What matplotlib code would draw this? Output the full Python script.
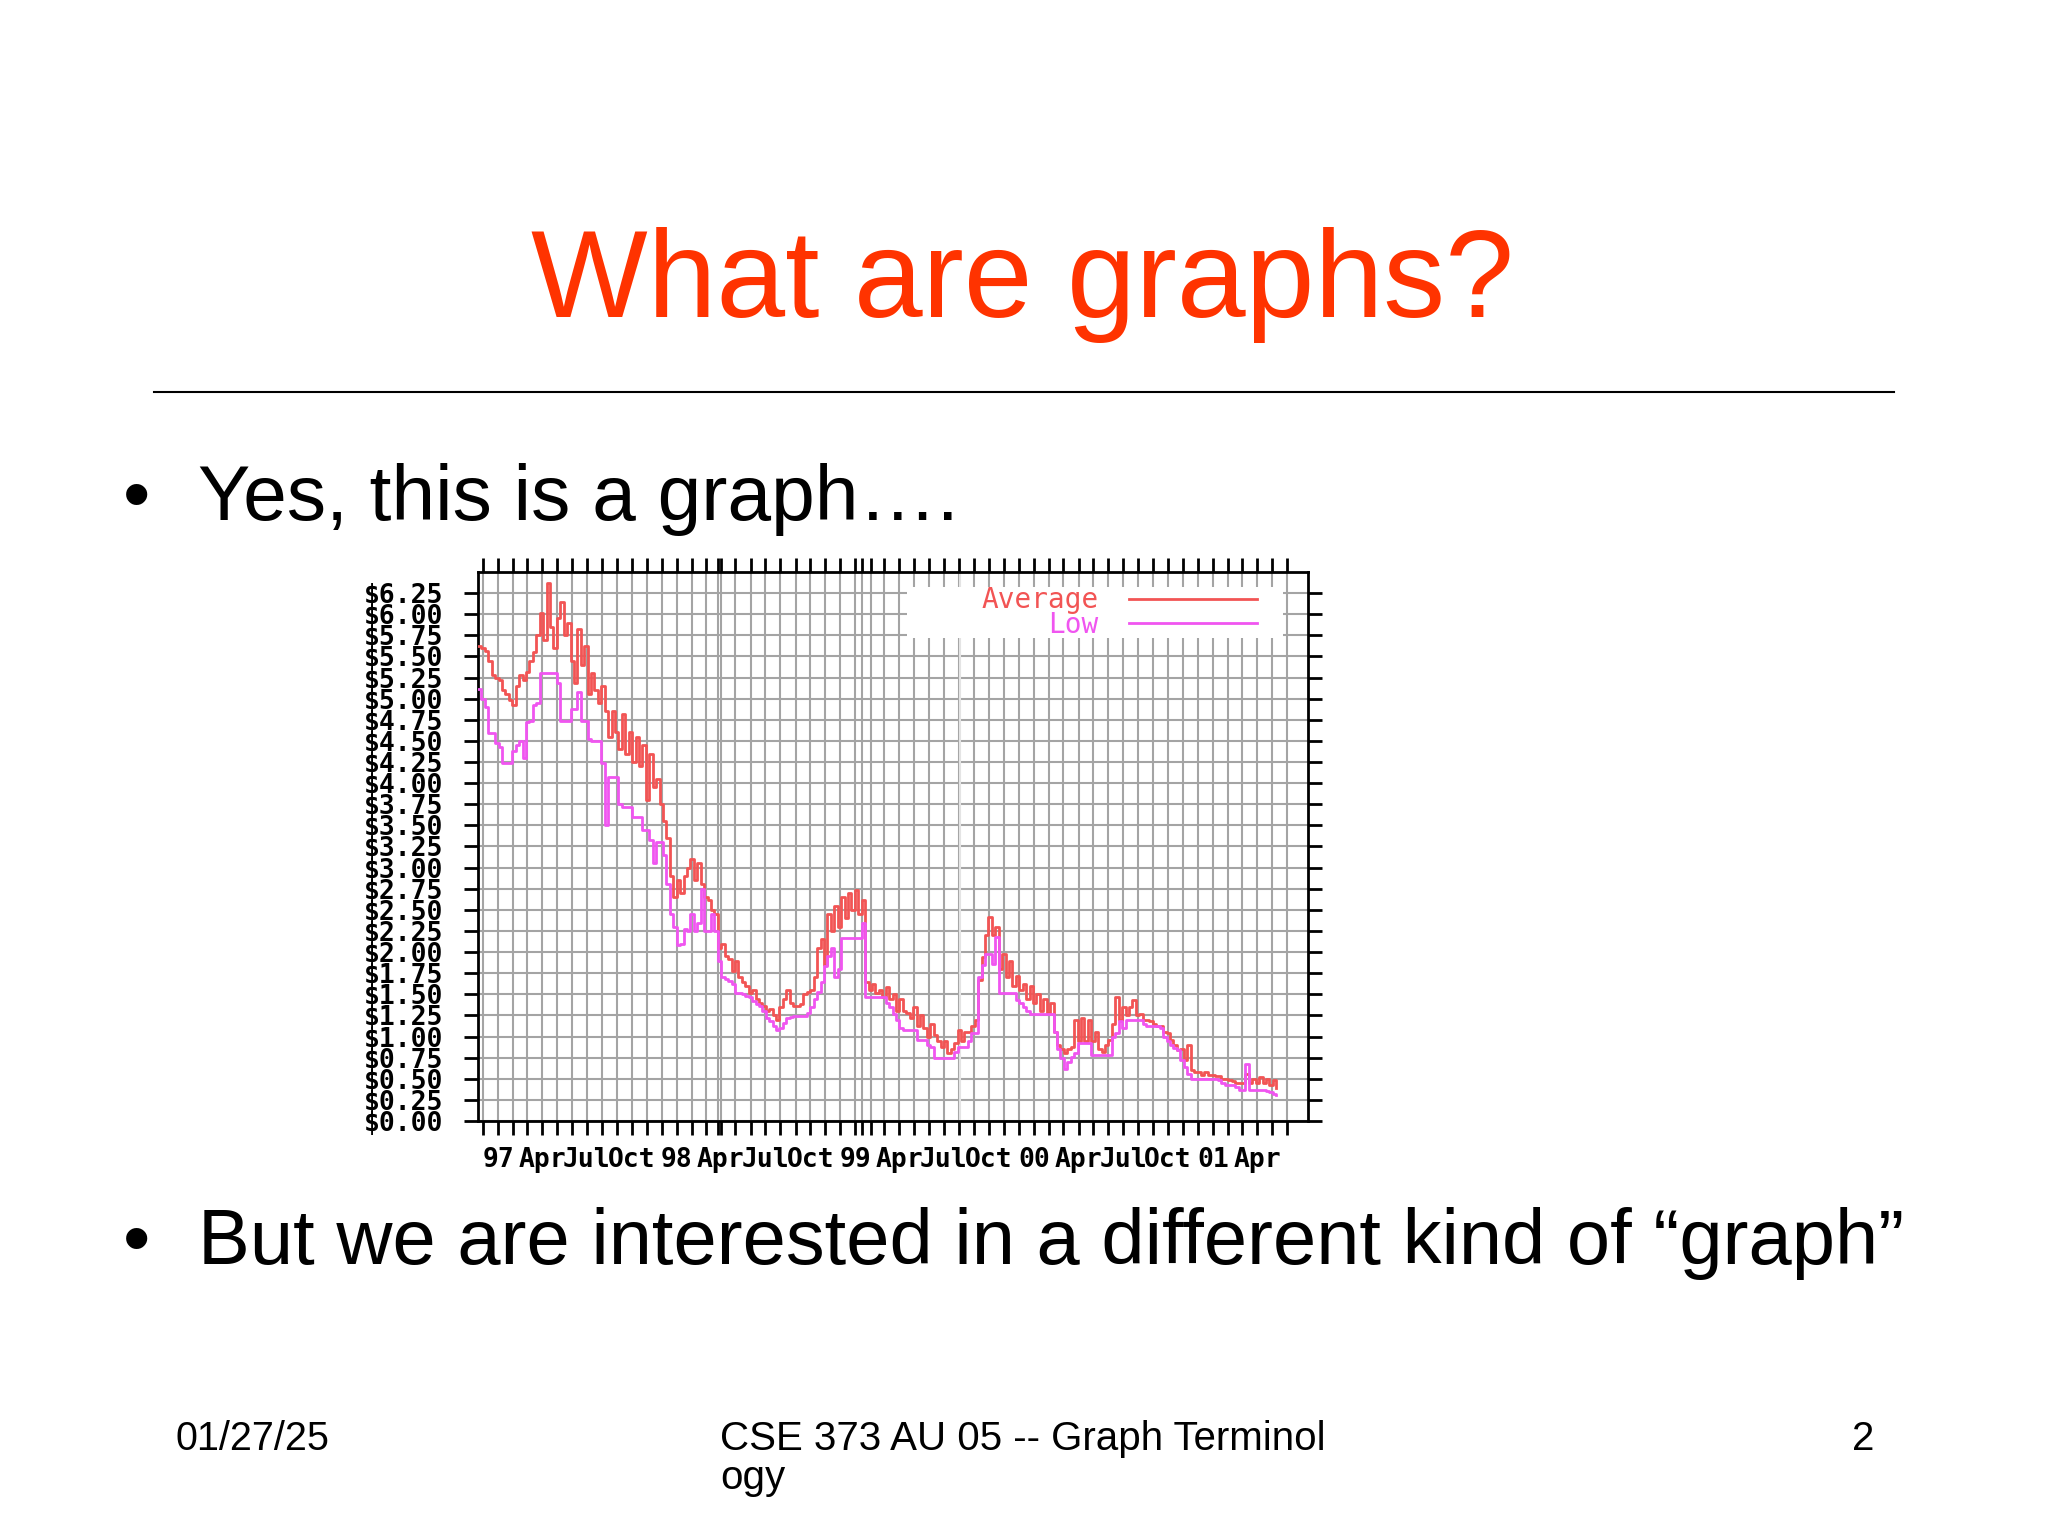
import matplotlib.pyplot as plt
import matplotlib.dates as mdates
from matplotlib.lines import Line2D
from matplotlib.patches import Rectangle
from matplotlib.ticker import FixedLocator
import pandas as pd

# weekly prices, one row per 13 weeks
avg_price = [
    5.62, 5.60, 5.57, 5.45, 5.28, 5.25, 5.22, 5.10, 5.05, 4.98, 4.92, 5.15, 5.28,
    5.22, 5.32, 5.45, 5.55, 5.75, 6.02, 5.70, 6.37, 5.85, 5.60, 5.95, 6.15, 5.75,
    5.90, 5.45, 5.18, 5.83, 5.40, 5.62, 5.06, 5.30, 5.10, 4.95, 5.15, 4.85, 4.55,
    4.85, 4.60, 4.40, 4.82, 4.35, 4.60, 4.25, 4.55, 4.20, 4.45, 3.80, 4.35, 3.95,
    4.05, 3.75, 3.55, 3.35, 2.90, 2.65, 2.85, 2.70, 2.90, 3.00, 3.10, 2.85, 3.05,
    2.80, 2.65, 2.62, 2.50, 2.45, 2.05, 2.10, 1.95, 1.92, 1.78, 1.90, 1.70, 1.65,
    1.60, 1.52, 1.55, 1.45, 1.40, 1.36, 1.30, 1.32, 1.25, 1.20, 1.35, 1.45, 1.55,
    1.40, 1.36, 1.36, 1.38, 1.50, 1.53, 1.55, 1.70, 2.05, 2.15, 1.85, 2.45, 2.25,
    2.55, 2.30, 2.65, 2.40, 2.70, 2.50, 2.73, 2.45, 2.62, 1.65, 1.55, 1.62, 1.52,
    1.55, 1.47, 1.59, 1.45, 1.50, 1.30, 1.45, 1.30, 1.28, 1.22, 1.35, 1.12, 1.25,
    1.10, 1.00, 1.15, 1.02, 0.95, 0.88, 0.95, 0.80, 0.85, 0.92, 1.08, 0.95, 1.05,
    1.05, 1.12, 1.20, 1.67, 1.94, 2.20, 2.42, 2.20, 2.30, 1.80, 1.98, 1.70, 1.90,
    1.60, 1.72, 1.55, 1.62, 1.45, 1.60, 1.40, 1.50, 1.30, 1.45, 1.28, 1.40, 1.05,
    0.90, 0.85, 0.80, 0.85, 0.88, 1.20, 0.95, 1.22, 0.95, 1.20, 0.95, 1.05, 0.85,
    0.82, 0.90, 0.96, 1.15, 1.47, 1.20, 1.35, 1.25, 1.35, 1.43, 1.25, 1.27, 1.20,
    1.20, 1.18, 1.15, 1.12, 1.12, 1.05, 1.04, 0.96, 0.90, 0.84, 0.85, 0.72, 0.90,
    0.60, 0.58, 0.58, 0.55, 0.58, 0.55, 0.55, 0.53, 0.53, 0.50, 0.50, 0.48, 0.47,
    0.45, 0.45, 0.45, 0.56, 0.45, 0.50, 0.45, 0.52, 0.45, 0.50, 0.43, 0.48, 0.39,
]
low_price = [
    5.12, 5.00, 4.90, 4.59, 4.59, 4.48, 4.43, 4.24, 4.24, 4.24, 4.38, 4.45, 4.50,
    4.30, 4.72, 4.74, 4.92, 4.95, 5.31, 5.31, 5.31, 5.31, 5.31, 5.18, 4.74, 4.74,
    4.74, 4.88, 4.88, 5.08, 4.74, 4.74, 4.52, 4.50, 4.50, 4.50, 4.24, 3.50, 4.07,
    4.07, 4.07, 3.75, 3.72, 3.72, 3.72, 3.60, 3.60, 3.60, 3.44, 3.44, 3.33, 3.05,
    3.30, 3.30, 3.15, 2.80, 2.45, 2.30, 2.08, 2.10, 2.27, 2.25, 2.45, 2.25, 2.35,
    2.75, 2.25, 2.25, 2.45, 2.25, 1.90, 1.70, 1.68, 1.66, 1.62, 1.52, 1.51, 1.50,
    1.48, 1.47, 1.42, 1.38, 1.36, 1.30, 1.22, 1.18, 1.12, 1.08, 1.10, 1.16, 1.22,
    1.23, 1.24, 1.24, 1.24, 1.24, 1.28, 1.35, 1.45, 1.53, 1.65, 1.83, 1.95, 2.05,
    1.70, 1.80, 2.17, 2.17, 2.17, 2.17, 2.17, 2.17, 2.35, 1.47, 1.47, 1.47, 1.47,
    1.47, 1.47, 1.40, 1.35, 1.27, 1.20, 1.10, 1.08, 1.08, 1.08, 1.08, 0.96, 0.96,
    0.96, 0.90, 0.88, 0.74, 0.74, 0.74, 0.74, 0.74, 0.74, 0.82, 0.88, 0.88, 0.88,
    0.95, 1.04, 1.04, 1.71, 1.85, 1.98, 1.98, 1.86, 2.18, 1.51, 1.51, 1.51, 1.51,
    1.51, 1.43, 1.40, 1.35, 1.30, 1.27, 1.27, 1.27, 1.27, 1.27, 1.27, 1.27, 1.05,
    0.85, 0.75, 0.61, 0.70, 0.76, 0.80, 0.92, 0.92, 0.92, 0.92, 0.78, 0.78, 0.78,
    0.78, 0.78, 0.78, 1.00, 1.04, 1.18, 1.10, 1.19, 1.19, 1.19, 1.19, 1.19, 1.15,
    1.12, 1.12, 1.12, 1.12, 1.10, 1.00, 0.95, 0.90, 0.86, 0.84, 0.72, 0.64, 0.56,
    0.50, 0.50, 0.50, 0.50, 0.50, 0.50, 0.50, 0.50, 0.48, 0.45, 0.43, 0.43, 0.43,
    0.40, 0.37, 0.37, 0.68, 0.37, 0.37, 0.37, 0.37, 0.37, 0.36, 0.34, 0.32, 0.31,
]
first_week = "1996-11-21"
quarter_labels = ["97", "Apr", "Jul", "Oct", "98", "Apr", "Jul", "Oct", "99",
                  "Apr", "Jul", "Oct", "00", "Apr", "Jul", "Oct", "01", "Apr"]
price_ticks = [0.00, 0.25, 0.50, 0.75, 1.00, 1.25, 1.50, 1.75, 2.00, 2.25, 2.50,
               2.75, 3.00, 3.25, 3.50, 3.75, 4.00, 4.25, 4.50, 4.75, 5.00, 5.25,
               5.50, 5.75, 6.00, 6.25]
extra_ticks = ["1998-03-26", "1999-01-15"]

AVG_COLOR = "#f25454"
LOW_COLOR = "#f055f0"
GRID = "#a4a4a4"
SANS = "Liberation Sans"

plt.rcParams["font.family"] = "DejaVu Sans Mono"

fig = plt.figure(figsize=(20.48, 15.36), dpi=100)

# slide text
fig.text(0.4995, 0.7936, "What are graphs?", ha="center", va="baseline",
         fontsize=89, color="#ff3300", family=SANS)
fig.add_artist(Line2D([0.0752, 0.9248], [0.7448, 0.7448], color="black", lw=1.5))

fig.text(0.060, 0.6615, "\u2022", fontsize=56, family=SANS, va="baseline")
fig.text(0.0967, 0.6615, "Yes, this is a graph\u2026.", fontsize=56.5, family=SANS,
         va="baseline")
fig.text(0.060, 0.1771, "\u2022", fontsize=56, family=SANS, va="baseline")
fig.text(0.0967, 0.1771, "But we are interested in a different kind of \u201cgraph\u201d",
         fontsize=56, family=SANS, va="baseline")

fig.text(0.0859, 0.0560, "01/27/25", fontsize=28.5, family=SANS, va="baseline")
fig.text(0.3516, 0.0560, "CSE 373 AU 05 -- Graph Terminol", fontsize=29,
         family=SANS, va="baseline")
fig.text(0.3516, 0.0306, "ogy", fontsize=29, family=SANS, va="baseline")
fig.text(0.9150, 0.0560, "2", fontsize=29, family=SANS, va="baseline", ha="right")

# the price chart
ax = fig.add_axes([0.2334, 0.2702, 0.4053, 0.3574])
weeks = pd.date_range(first_week, periods=len(avg_price), freq="7D")

l_avg, = ax.step(weeks, avg_price, where="post", color=AVG_COLOR, lw=2,
                 label="Average", zorder=3)
l_low, = ax.step(weeks, low_price, where="post", color=LOW_COLOR, lw=2,
                 label="Low", zorder=4)

ax.set_xlim(pd.Timestamp("1996-11-21"), pd.Timestamp("2001-07-14"))
ax.set_ylim(0, 6.5)

ax.set_yticks(price_ticks)
ax.set_yticklabels([f"${v:.2f}" for v in price_ticks])

quarters = pd.date_range("1997-01-01", periods=len(quarter_labels), freq="QS")
ax.set_xticks(mdates.date2num(quarters))
ax.set_xticklabels(quarter_labels)
months = list(pd.date_range("1996-12-01", "2001-06-01", freq="MS"))
months += [pd.Timestamp(d) for d in extra_ticks]
ax.xaxis.set_minor_locator(FixedLocator(mdates.date2num(months)))

ax.tick_params(which="both", direction="out", length=10, width=2, top=True,
               right=True, labeltop=False, labelright=False, color="black")
ax.tick_params(axis="x", which="major", pad=9)
ax.tick_params(axis="y", pad=15)
for lbl in ax.get_xticklabels() + ax.get_yticklabels():
    lbl.set_fontsize(19)
    lbl.set_fontweight("bold")

ax.grid(True, which="both", axis="x", color=GRID, lw=1.5)
ax.grid(True, which="major", axis="y", color=GRID, lw=1.5)
ax.set_axisbelow(True)
ax.axvline(pd.Timestamp("1999-08-02"), color="#e4e4e4", lw=1.5, zorder=1)

for sp in ax.spines.values():
    sp.set_linewidth(2)
    sp.set_color("black")

# white legend box over the grid
ax.add_patch(Rectangle((0.517, 0.880), 0.453, 0.0927, transform=ax.transAxes,
                       facecolor="white", edgecolor="none", zorder=2))
ax.legend(handles=[l_avg, l_low], loc="upper right", bbox_to_anchor=(0.9386, 0.974),
          frameon=False, markerfirst=False, handlelength=4.6, handletextpad=1.1,
          labelspacing=-0.12, borderpad=0, borderaxespad=0, labelcolor="linecolor",
          prop={"family": "DejaVu Sans Mono", "size": 20})

fig.savefig("out.png", dpi=100)
